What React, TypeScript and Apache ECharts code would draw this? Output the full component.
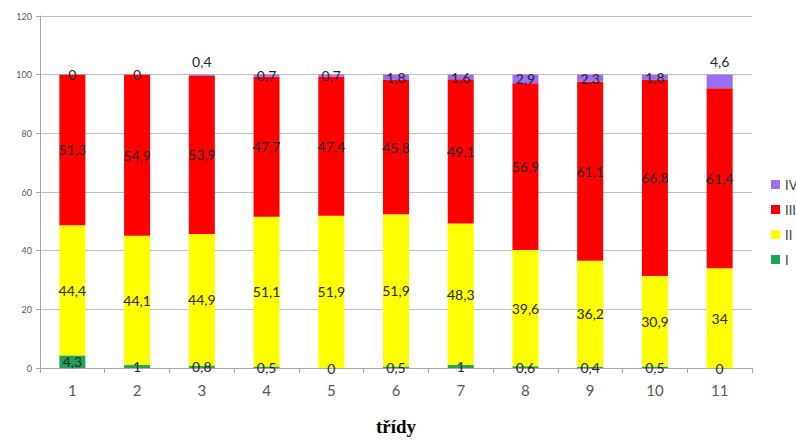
import React, { useEffect, useRef } from "react";
import * as echarts from "echarts";

const categories = ["1", "2", "3", "4", "5", "6", "7", "8", "9", "10", "11"];
const seriesI = [4.3, 1, 0.8, 0.5, 0, 0.5, 1, 0.6, 0.4, 0.5, 0];
const seriesII = [44.4, 44.1, 44.9, 51.1, 51.9, 51.9, 48.3, 39.6, 36.2, 30.9, 34];
const seriesIII = [51.3, 54.9, 53.9, 47.7, 47.4, 45.8, 49.1, 56.9, 61.1, 66.8, 61.4];
const seriesIV = [0, 0, 0.4, 0.7, 0.7, 1.8, 1.6, 2.9, 2.3, 1.8, 4.6];
const yTicks = [0, 20, 40, 60, 80, 100, 120];
const axisTitle = "třídy";

const fmt = (p: any) => String(p.value).replace(".", ",");

export default function App() {
  const ref = useRef<HTMLDivElement>(null);
  useEffect(() => {
    if (!ref.current) return;
    const chart = echarts.init(ref.current, null, { renderer: "svg" });
    const labelBase = {
      show: true,
      position: "inside" as const,
      formatter: fmt,
      color: "#262626",
      fontSize: 14,
      fontFamily: "Lato",
    };
    const mk = (name: string, data: number[], color: string, extraOffsets?: Record<number, number>) => ({
      name,
      type: "bar",
      stack: "total",
      barWidth: 26,
      itemStyle: { color },
      label: labelBase,
      data: data.map((v, i) =>
        extraOffsets && extraOffsets[i] !== undefined
          ? { value: v, label: { offset: [0, extraOffsets[i]] } }
          : v
      ),
    });
    chart.setOption({
      animation: false,
      grid: { left: 40, right: 44, top: 16, bottom: 68 },
      legend: {
        orient: "vertical",
        left: 766,
        top: 173,
        itemWidth: 9,
        itemHeight: 9,
        itemGap: 12,
        icon: "rect",
        data: ["IV", "III", "II", "I"],
        textStyle: { color: "#404040", fontSize: 13, fontFamily: "Lato" },
      },
      xAxis: {
        type: "category",
        data: categories,
        name: axisTitle,
        nameLocation: "middle",
        nameGap: 49,
        nameTextStyle: {
          fontFamily: "Liberation Serif",
          fontWeight: "bold",
          fontSize: 19,
          color: "#000",
        },
        axisLine: { lineStyle: { color: "#a6a6a6" } },
        axisTick: { show: true, alignWithLabel: false, length: 5, lineStyle: { color: "#a6a6a6" } },
        axisLabel: { color: "#595959", fontSize: 15, fontFamily: "Lato", margin: 14 },
      },
      yAxis: {
        type: "value",
        min: yTicks[0],
        max: yTicks[yTicks.length - 1],
        interval: 20,
        axisLine: { show: true, lineStyle: { color: "#a6a6a6" } },
        axisTick: { show: true, length: 4, lineStyle: { color: "#a6a6a6" } },
        axisLabel: { color: "#595959", fontSize: 9, fontFamily: "Lato", margin: 8 },
        splitLine: { lineStyle: { color: "#bfbfbf" } },
      },
      series: [
        mk("I", seriesI, "#1ea35a"),
        mk("II", seriesII, "#ffff00"),
        mk("III", seriesIII, "#ff0000"),
        mk("IV", seriesIV, "#9b6ef3", { 2: -14, 10: -20 }),
      ],
    });
    return () => chart.dispose();
  }, []);
  return (
    <div
      ref={ref}
      style={{ position: "fixed", left: 0, top: 0, width: 796, height: 441, background: "#fff" }}
    />
  );
}
